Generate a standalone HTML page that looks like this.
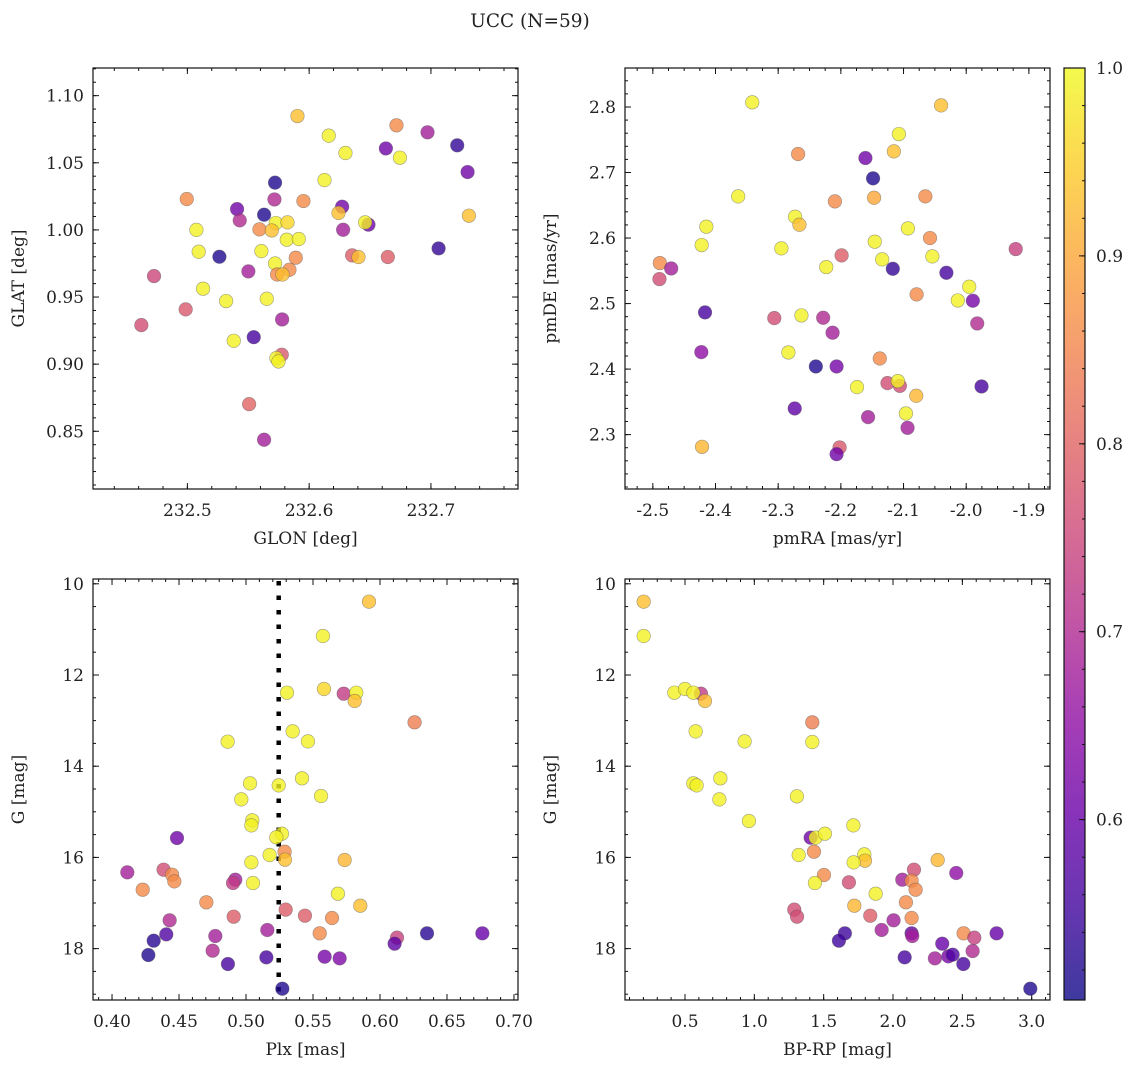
<!DOCTYPE html>
<html><head><meta charset="utf-8"><style>
body{margin:0;background:#fff}
svg text{font-family:"DejaVu Serif","Liberation Serif",serif;fill:#222}
</style></head><body>
<svg id="fig" width="1136" height="1067" viewBox="0 0 1136 1067" xmlns="http://www.w3.org/2000/svg">
<text x="530" y="27" font-size="18.5" text-anchor="middle">UCC (N=59)</text>
</svg>
<script>
const p1Glon=[232.5904,232.6161,232.6298,232.6717,232.6972,232.6630,232.7216,232.6745,232.7301,232.6126,232.4995,232.5720,232.5715,232.5408,232.5953,232.6271,232.5430,232.5630,232.6241,232.5726,232.5822,232.6487,232.6460,232.7312,232.5074,232.5592,232.5693,232.5816,232.5915,232.6279,232.5093,232.5263,232.5608,232.5890,232.7063,232.6353,232.6405,232.6646,232.4726,232.5501,232.5720,232.5838,232.5737,232.5781,232.5129,232.4986,232.5318,232.5652,232.4622,232.5778,232.5545,232.5381,232.5775,232.5731,232.5748,232.5507,232.5630];
const p1Glat=[1.0848,1.0702,1.0573,1.0779,1.0727,1.0607,1.0630,1.0538,1.0431,1.0371,1.0230,1.0352,1.0227,1.0155,1.0215,1.0173,1.0071,1.0113,1.0126,1.0051,1.0056,1.0039,1.0056,1.0106,1.0000,1.0004,0.9996,0.9927,0.9932,1.0001,0.9837,0.9800,0.9842,0.9793,0.9862,0.9810,0.9798,0.9798,0.9656,0.9691,0.9750,0.9703,0.9668,0.9668,0.9562,0.9408,0.9470,0.9487,0.9291,0.9333,0.9201,0.9174,0.9070,0.9045,0.9020,0.8702,0.8437];
const p1Prob=[0.93,0.99,0.99,0.86,0.68,0.61,0.54,0.99,0.61,0.99,0.86,0.52,0.70,0.61,0.86,0.61,0.70,0.52,0.93,0.99,0.96,0.61,0.99,0.93,0.99,0.86,0.93,0.99,0.99,0.68,0.99,0.52,0.99,0.86,0.54,0.79,0.93,0.79,0.75,0.68,0.99,0.86,0.86,0.93,0.99,0.78,0.99,0.99,0.76,0.68,0.56,0.99,0.78,0.99,0.99,0.80,0.68];

const p2PmRA=[-2.3414,-2.0401,-2.1074,-2.1154,-2.2682,-2.1608,-2.1486,-2.3638,-2.1470,-2.0652,-2.2095,-2.4146,-2.2730,-2.2661,-2.0930,-2.4221,-2.2949,-2.1459,-2.0578,-1.9210,-2.1988,-2.0540,-2.1341,-2.4888,-2.4707,-2.4894,-2.2233,-2.1171,-2.0316,-1.9952,-2.0791,-2.0134,-1.9894,-2.4167,-2.3062,-2.2629,-2.2282,-1.9824,-2.2132,-2.4226,-2.2837,-2.2399,-2.2068,-2.1379,-2.1742,-2.1256,-2.1058,-2.1090,-2.0797,-1.9755,-2.2736,-2.1566,-2.0962,-2.0936,-2.4215,-2.2020,-2.2068];
const p2PmDE=[2.8071,2.8025,2.7587,2.7323,2.7282,2.7221,2.6911,2.6636,2.6615,2.6636,2.6559,2.6173,2.6325,2.6203,2.6147,2.5893,2.5842,2.5944,2.6000,2.5832,2.5735,2.5720,2.5674,2.5618,2.5536,2.5374,2.5557,2.5531,2.5470,2.5257,2.5140,2.5048,2.5043,2.4865,2.4778,2.4819,2.4783,2.4697,2.4555,2.4259,2.4254,2.4040,2.4040,2.4162,2.3725,2.3786,2.3745,2.3817,2.3593,2.3735,2.3399,2.3267,2.3323,2.3104,2.2814,2.2804,2.2702];
const p2Prob=[0.99,0.93,0.99,0.93,0.86,0.61,0.52,0.99,0.90,0.86,0.86,0.99,0.99,0.93,0.99,0.99,0.99,0.99,0.86,0.74,0.79,0.99,0.99,0.86,0.68,0.76,0.99,0.54,0.56,0.99,0.86,0.99,0.62,0.56,0.76,0.99,0.70,0.70,0.68,0.65,0.99,0.52,0.62,0.86,0.99,0.76,0.76,0.99,0.92,0.56,0.59,0.68,0.99,0.68,0.92,0.78,0.61];

const p3Plx=[0.5918,0.5574,0.5306,0.5582,0.5729,0.5823,0.5811,0.6258,0.4863,0.5348,0.5462,0.5030,0.5244,0.5418,0.4965,0.5560,0.5047,0.5040,0.5268,0.5226,0.4485,0.5288,0.5176,0.5291,0.5040,0.5736,0.4114,0.4385,0.4448,0.4465,0.4920,0.4903,0.5052,0.4229,0.5686,0.4704,0.5853,0.4430,0.4908,0.5296,0.5440,0.5642,0.4405,0.4311,0.4771,0.5159,0.5550,0.6127,0.6109,0.6351,0.6764,0.4271,0.4751,0.4865,0.5152,0.5587,0.5699,0.5271];
const p3G=[10.392,11.145,12.388,12.307,12.410,12.388,12.570,13.038,13.462,13.236,13.455,14.376,14.420,14.266,14.727,14.654,15.187,15.297,15.480,15.560,15.575,15.875,15.948,16.050,16.109,16.057,16.328,16.269,16.379,16.525,16.489,16.562,16.562,16.708,16.796,16.985,17.059,17.380,17.300,17.146,17.278,17.329,17.688,17.826,17.724,17.592,17.665,17.760,17.892,17.665,17.665,18.141,18.046,18.338,18.192,18.177,18.214,18.879];
const p3Prob=[0.93,0.99,0.99,0.96,0.73,0.99,0.93,0.84,0.99,0.99,0.99,0.99,0.99,0.99,0.99,0.99,0.99,0.99,0.99,0.99,0.61,0.86,0.99,0.93,0.99,0.92,0.68,0.76,0.86,0.86,0.68,0.73,0.99,0.86,0.99,0.86,0.93,0.70,0.79,0.79,0.79,0.86,0.57,0.53,0.68,0.68,0.86,0.74,0.59,0.53,0.60,0.52,0.70,0.56,0.56,0.62,0.63,0.52];
const plxLine=0.5244;

const p4BpRp=[0.202,0.202,0.423,0.500,0.615,0.560,0.644,1.418,0.577,0.930,1.418,0.755,0.560,0.584,0.748,1.307,0.961,1.714,1.406,1.442,1.509,1.430,1.320,1.793,1.798,1.716,2.322,2.151,2.456,1.502,2.067,2.134,2.163,1.682,1.437,1.875,2.093,1.721,1.288,1.308,1.836,2.134,2.004,1.918,1.653,1.610,2.134,2.139,2.509,2.586,2.747,2.355,2.574,2.084,2.302,2.399,2.430,2.507,2.990];
const p4G=[10.392,11.145,12.388,12.307,12.410,12.388,12.570,13.038,13.236,13.455,13.470,14.266,14.376,14.420,14.727,14.661,15.202,15.297,15.567,15.567,15.480,15.875,15.948,15.933,16.072,16.109,16.057,16.269,16.342,16.386,16.489,16.511,16.708,16.547,16.562,16.796,16.985,17.059,17.146,17.300,17.278,17.329,17.380,17.592,17.665,17.826,17.665,17.724,17.665,17.760,17.665,17.892,18.053,18.192,18.214,18.170,18.133,18.338,18.879];
const p4Prob=[0.93,0.99,0.99,0.99,0.73,0.99,0.93,0.84,0.99,0.99,0.99,0.99,0.99,0.99,0.99,0.99,0.99,0.99,0.61,0.99,0.99,0.86,0.99,0.99,0.93,0.99,0.92,0.76,0.65,0.86,0.68,0.86,0.86,0.76,0.99,0.99,0.86,0.92,0.76,0.76,0.79,0.86,0.68,0.68,0.55,0.55,0.60,0.68,0.86,0.74,0.60,0.60,0.70,0.56,0.68,0.62,0.57,0.56,0.52];

const glonTicks=[232.5,232.6,232.7];
const glatTicks=[0.85,0.90,0.95,1.00,1.05,1.10];
const pmraTicks=[-2.5,-2.4,-2.3,-2.2,-2.1,-2.0,-1.9];
const pmdeTicks=[2.3,2.4,2.5,2.6,2.7,2.8];
const plxTicks=[0.40,0.45,0.50,0.55,0.60,0.65,0.70];
const gTicks=[10,12,14,16,18];
const bprpTicks=[0.5,1.0,1.5,2.0,2.5,3.0];
const cbarTicks=[0.6,0.7,0.8,0.9,1.0];
const cMin=0.504, cMax=1.0;

const NS='http://www.w3.org/2000/svg';
const svg=document.getElementById('fig');
const FS=17;
function mk(tag,attrs,parent){const e=document.createElementNS(NS,tag);for(const k in attrs)e.setAttribute(k,attrs[k]);(parent||svg).appendChild(e);return e;}
const plasma=[[13,8,135],[65,4,157],[106,0,168],[143,13,164],[177,42,144],[204,71,120],[225,100,98],[242,132,75],[252,166,54],[252,206,37],[240,249,33]];
function cmap(v){let t=(v-cMin)/(cMax-cMin);t=Math.max(0,Math.min(1,t))*10;const i=Math.min(9,Math.floor(t)),f=t-i;const a=plasma[i],b=plasma[i+1];return 'rgb('+a.map((c,k)=>Math.round(c+(b[k]-c)*f)).join(',')+')';}

function panel(o){
  const g=mk('g',{});
  
  
  const sx=v=>o.x0+(v-o.xmin)/(o.xmax-o.xmin)*(o.x1-o.x0);
  const sy=v=>o.y1-(v-o.ymin)/(o.ymax-o.ymin)*(o.y1-o.y0);
  const tk=mk('g',{stroke:'#111','stroke-width':1},g);
  
  
  for(let v=Math.ceil(o.xmin/o.xminor)*o.xminor;v<=o.xmax;v+=o.xminor){const x=sx(v);mk('line',{x1:x,x2:x,y1:o.y1,y2:o.y1-3},tk);mk('line',{x1:x,x2:x,y1:o.y0,y2:o.y0+3},tk);}
  for(let v=Math.ceil(o.ymin/o.yminor)*o.yminor;v<=o.ymax;v+=o.yminor){const y=sy(v);mk('line',{x1:o.x0,x2:o.x0+3,y1:y,y2:y},tk);mk('line',{x1:o.x1,x2:o.x1-3,y1:y,y2:y},tk);}
  o.xt.forEach(v=>{const x=sx(v);mk('line',{x1:x,x2:x,y1:o.y1,y2:o.y1-6},tk);mk('line',{x1:x,x2:x,y1:o.y0,y2:o.y0+6},tk);
    const t=mk('text',{x:x,y:o.y1+27,'font-size':FS,'text-anchor':'middle'},g);t.textContent=v.toFixed(o.xd);
    
    });
  o.yt.forEach(v=>{const y=sy(v);mk('line',{x1:o.x0,x2:o.x0+6,y1:y,y2:y},tk);mk('line',{x1:o.x1,x2:o.x1-6,y1:y,y2:y},tk);
    const t=mk('text',{x:o.x0-9,y:y+6,'font-size':FS,'text-anchor':'end'},g);t.textContent=o.ylab?o.ylab(v):v.toFixed(o.yd);
    
    });
  if(o.vline!==undefined){const x=sx(o.vline);const l=mk('line',{x1:x,x2:x,y1:o.y0+2,y2:o.y1,stroke:'#000','stroke-width':4.5,'stroke-dasharray':'4.5 10'},g);
    
    }
  for(let i=0;i<o.xs.length;i++){
    const c=mk('circle',{cx:sx(o.xs[i]),cy:sy(o.ys[i]),r:6.8,fill:cmap(o.cs[i]),'fill-opacity':0.8,stroke:'#555','stroke-opacity':0.55,'stroke-width':0.6},g);
    
    
  }
  const fr=mk('rect',{x:o.x0,y:o.y0,width:o.x1-o.x0,height:o.y1-o.y0,fill:'none',stroke:'#111','stroke-width':1.2},g);
  
  
  const xl=mk('text',{x:(o.x0+o.x1)/2,y:o.y1+55,'font-size':FS,'text-anchor':'middle'},g);xl.textContent=o.xlabel;
  
  
  const yx=o.x0-69,yy=(o.y0+o.y1)/2;
  const yl=mk('text',{x:yx,y:yy,'font-size':FS,'text-anchor':'middle',transform:'rotate(-90 '+yx+' '+yy+')'},g);yl.textContent=o.ylabel;
  
  
}
panel({name:'glon-glat-panel',x0:93,x1:518,y0:68,y1:489,xmin:232.4225,xmax:232.7715,ymin:0.807,ymax:1.1206,xminor:0.02,yminor:0.01,xt:glonTicks,yt:glatTicks,xd:1,yd:2,xs:p1Glon,ys:p1Glat,cs:p1Prob,xlabel:'GLON [deg]',ylabel:'GLAT [deg]'});
panel({name:'pm-panel',x0:625,x1:1050,y0:68,y1:489,xmin:-2.5444,xmax:-1.8663,ymin:2.217,ymax:2.8595,xminor:0.025,yminor:0.02,xt:pmraTicks,yt:pmdeTicks,xd:1,yd:1,xs:p2PmRA,ys:p2PmDE,cs:p2Prob,xlabel:'pmRA [mas/yr]',ylabel:'pmDE [mas/yr]'});
function panelInv(o){panel(Object.assign({},o,{ymin:-o.gmax,ymax:-o.gmin,ys:o.gs.map(v=>-v),yt:o.gt.map(v=>-v),ylab:v=>String(-v)}));}
panelInv({name:'plx-g-panel',x0:93,x1:518,y0:579,y1:1000,xmin:0.3858,xmax:0.703,gmin:9.895,gmax:19.127,xminor:0.01,yminor:0.5,xt:plxTicks,gt:gTicks,xd:2,xs:p3Plx,gs:p3G,cs:p3Prob,xlabel:'Plx [mas]',ylabel:'G [mag]',vline:plxLine});
panelInv({name:'cmd-panel',x0:625,x1:1050,y0:579,y1:1000,xmin:0.0674,xmax:3.132,gmin:9.895,gmax:19.127,xminor:0.1,yminor:0.5,xt:bprpTicks,gt:gTicks,xd:1,xs:p4BpRp,gs:p4G,cs:p4Prob,xlabel:'BP-RP [mag]',ylabel:'G [mag]'});

const cb=mk('g',{});


const defs=mk('defs',{},cb);
const lg=mk('linearGradient',{id:'cbg',x1:0,y1:1,x2:0,y2:0},defs);
plasma.forEach((c,i)=>mk('stop',{offset:(i*10)+'%','stop-color':'rgb('+c.join(',')+')','stop-opacity':0.8},lg));
const cy0=68,cy1=1000,cx0=1064,cx1=1085;
const cyv=v=>cy1-(v-cMin)/(cMax-cMin)*(cy1-cy0);
mk('rect',{x:cx0,y:cy0,width:cx1-cx0,height:cy1-cy0,fill:'url(#cbg)',stroke:'#111','stroke-width':1.2},cb);
for(let v=0.52;v<=1.0001;v+=0.02){const y=cyv(v);mk('line',{x1:cx1,x2:cx1-3,y1:y,y2:y,stroke:'#111'},cb);}
cbarTicks.forEach(v=>{const y=cyv(v);mk('line',{x1:cx1,x2:cx1-6,y1:y,y2:y,stroke:'#111'},cb);
  const t=mk('text',{x:cx1+11,y:y+6,'font-size':FS},cb);t.textContent=v.toFixed(1);
  
  });
</script>
</body></html>
